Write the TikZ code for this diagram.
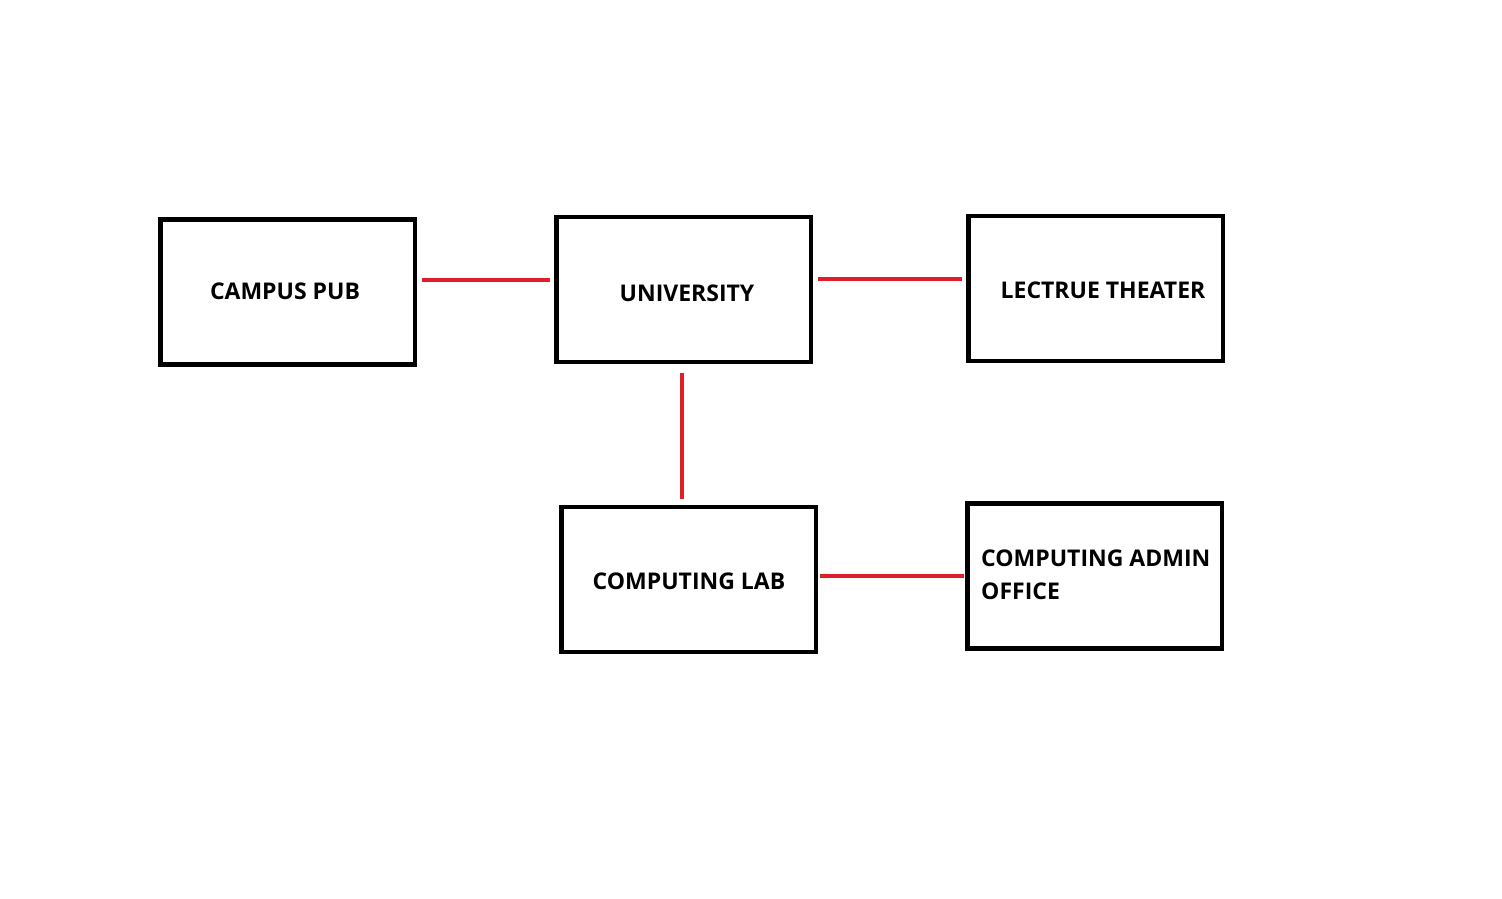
\documentclass[tikz,border=0pt]{standalone}
\usepackage{fontspec}
\setmainfont{Open Sans}
\definecolor{linkred}{RGB}{222,30,40}
\begin{document}
\begin{tikzpicture}[x=1pt,y=-1pt,
  box/.style={draw=black,line width=4.5pt,minimum width=254.5pt,minimum height=145pt,inner sep=0pt},
  lbl/.style={font=\bfseries\fontsize{23}{33}\selectfont,inner sep=0pt},
  link/.style={draw=linkred,line width=4pt}]
\useasboundingbox (0,0) rectangle (1502,898);
\node[box] (pub) at (287.5,292) {};
\node[box] (uni) at (683.5,289.5) {};
\node[box] (lec) at (1095.5,288.5) {};
\node[box] (lab) at (688.5,579.5) {};
\node[box] (adm) at (1094.5,576) {};
\node[lbl] (tpub) at (285,291) {CAMPUS PUB};
\node[lbl] (tuni) at (687,293) {UNIVERSITY};
\node[lbl] (tlec) at (1103,290) {LECTRUE THEATER};
\node[lbl] (tlab) at (689,581) {COMPUTING LAB};
\node[lbl,align=left,anchor=west] (tadm) at (981,575) {COMPUTING ADMIN\\OFFICE};
\coordinate (a1) at (422,280); \coordinate (a2) at (550,280);
\coordinate (b1) at (818,279); \coordinate (b2) at (962,279);
\coordinate (c1) at (682,373); \coordinate (c2) at (682,499);
\coordinate (d1) at (820,576); \coordinate (d2) at (964,576);
\draw[link] (a1) -- (a2);
\draw[link] (b1) -- (b2);
\draw[link] (c1) -- (c2);
\draw[link] (d1) -- (d2);
\end{tikzpicture}
\end{document}
